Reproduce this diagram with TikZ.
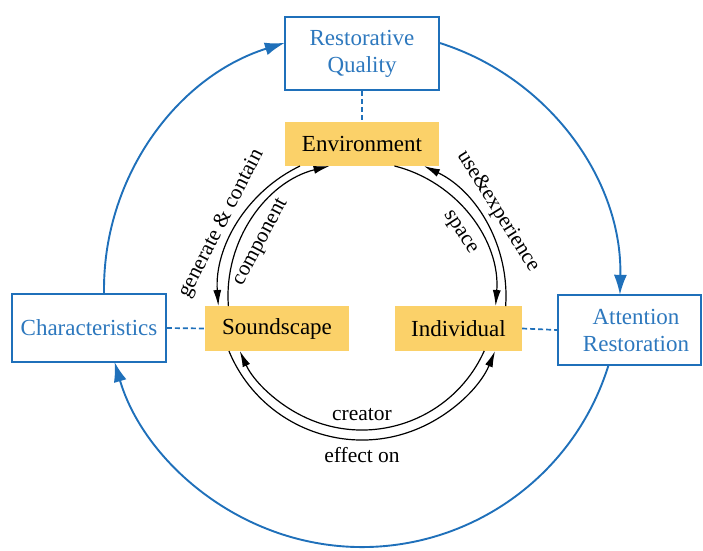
\documentclass[tikz,border=0pt]{standalone}
\usepackage{fontspec}
\setmainfont{Liberation Serif}
\usetikzlibrary{arrows.meta}
\definecolor{rblue}{RGB}{31,112,186}
\definecolor{tblue}{RGB}{45,120,190}
\definecolor{ryellow}{RGB}{251,209,105}
\tikzset{
  bluebox/.style={draw=rblue, line width=1.8pt, fill=white, text=tblue, align=center, inner sep=0pt, font=\fontsize{23}{27}\selectfont},
  yelbox/.style={fill=ryellow, text=black, inner sep=0pt, font=\fontsize{23}{27}\selectfont},
  bluearc/.style={draw=rblue, line width=1.9pt, -{Latex[length=20pt,width=13pt]}},
  blackarc/.style={draw=black, line width=1.2pt, -{Latex[length=16pt,width=8pt]}},
  bluedash/.style={draw=rblue, line width=1.7pt, dash pattern=on 5pt off 3pt},
  arclabel/.style={font=\fontsize{21.5}{25}\selectfont, inner sep=0pt}
}
\begin{document}
\begin{tikzpicture}[x=1pt,y=1pt]
\useasboundingbox (0,0) rectangle (703,550);
\coordinate (bc) at (362,261);
\coordinate (ic) at (362,254);
% blue outer circle arcs
\draw[bluearc] ([shift={(181.1:258)}]bc) arc[start angle=181.1, end angle=107.4, radius=258];
\draw[bluearc] ([shift={(72.6:258)}]bc) arc[start angle=72.6, end angle=-1.3, radius=258];
\draw[bluearc] ([shift={(-17.1:258)}]bc) arc[start angle=-17.1, end angle=-163.6, radius=258];
% boxes
\node[bluebox, minimum width=154pt, minimum height=73pt] (rq) at (362,496.5) {Restorative\\Quality};
\node[bluebox, minimum width=154pt, minimum height=68pt] (char) at (89,222) {Characteristics};
\node[bluebox, minimum width=143pt, minimum height=70pt] (ar) at (629.5,220) {};
\node[bluebox, draw=none, fill=none] (artext) at (636,220) {Attention\\Restoration};
\node[yelbox, minimum width=154pt, minimum height=44pt] (env) at (362,406) {Environment};
\node[yelbox, minimum width=144pt, minimum height=45pt] (snd) at (277,221.5) {Soundscape};
\node[yelbox, minimum width=127pt, minimum height=45pt] (ind) at (458.5,221.5) {Individual};
% dashed links
\draw[bluedash] (rq.south) -- (env.north);
\draw[bluedash] (char.east) -- (snd.west);
\draw[bluedash] (ind.east) -- (ar.west);
% inner black arcs
\draw[blackarc] ([shift={(115.5:144)}]ic) arc[start angle=115.5, end angle=184, radius=144];
\draw[blackarc] ([shift={(184.3:134)}]ic) arc[start angle=184.3, end angle=104, radius=134];
\draw[blackarc] ([shift={(76:134)}]ic) arc[start angle=76, end angle=-4.3, radius=134];
\draw[blackarc] ([shift={(-4:144)}]ic) arc[start angle=-4, end angle=64.5, radius=144];
\draw[blackarc] ([shift={(-24.2:134)}]ic) arc[start angle=-24.2, end angle=-155.8, radius=134];
\draw[blackarc] ([shift={(202.5:144)}]ic) arc[start angle=202.5, end angle=337.5, radius=144];
% labels
\node[arclabel, rotate=62.8] (l1) at ([shift={(152.8:158)}]ic) {generate \& contain};
\node[arclabel, rotate=62] (l2) at ([shift={(152:114)}]ic) {component};
\node[arclabel, rotate=-58.1] (l3) at ([shift={(31.9:160)}]ic) {use\&experience};
\node[arclabel, rotate=-57] (l4) at ([shift={(33:116)}]ic) {space};
\node[arclabel, anchor=base] (l5) at (362,130) {creator};
\node[arclabel, anchor=base] (l6) at (362,88) {effect on};
\end{tikzpicture}
\end{document}
